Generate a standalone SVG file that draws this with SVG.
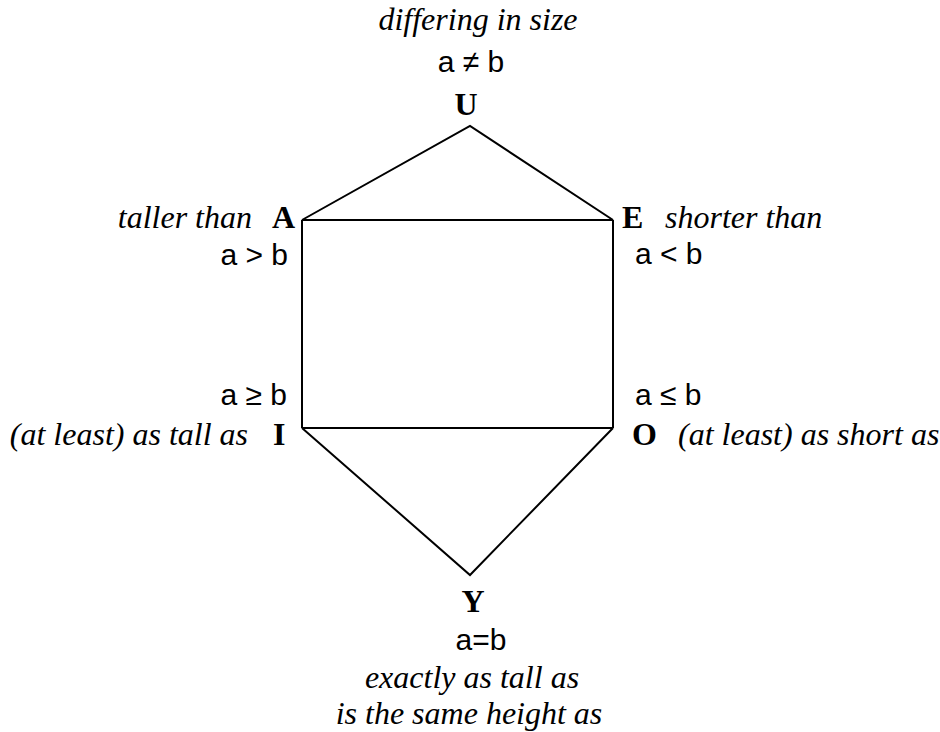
<svg xmlns="http://www.w3.org/2000/svg" width="940" height="732" viewBox="0 0 940 732">
<style>
.it{font-family:"Liberation Serif","Times New Roman",serif;font-style:italic;font-size:32px;fill:#000}
.bd{font-family:"Liberation Serif","Times New Roman",serif;font-weight:bold;font-size:32px;fill:#000}
.sn{font-family:"Liberation Sans",Arial,sans-serif;font-size:30px;fill:#000}
.ln{stroke:#000;stroke-width:2;fill:none;stroke-linejoin:miter}
</style>
<rect width="940" height="732" fill="#fff"/>
<g id="connectors" class="ln">
<polyline points="302,220 470,126 613,220"/>
<line x1="302" y1="220" x2="613" y2="220"/>
<line x1="302" y1="220" x2="302" y2="428"/>
<line x1="613" y1="220" x2="613" y2="428"/>
<line x1="302" y1="428" x2="613" y2="428"/>
<polyline points="302,428 470,575 613,428"/>
</g>
<g id="U">
<text class="it" x="478" y="30" text-anchor="middle">differing in size</text>
<text class="sn" x="471" y="72" text-anchor="middle">a ≠ b</text>
<text class="bd" x="466" y="115" text-anchor="middle" font-size="34">U</text>
</g>
<g id="A">
<text class="it" x="252" y="228" text-anchor="end">taller than</text>
<text class="bd" x="272" y="228">A</text>
<text class="sn" x="288" y="265" text-anchor="end">a &gt; b</text>
</g>
<g id="E">
<text class="bd" x="622" y="228">E</text>
<text class="it" x="665" y="228">shorter than</text>
<text class="sn" x="635" y="264">a &lt; b</text>
</g>
<g id="I">
<text class="sn" x="287" y="405" text-anchor="end">a ≥ b</text>
<text class="it" x="248" y="445" text-anchor="end">(at least) as tall as</text>
<text class="bd" x="273" y="445">I</text>
</g>
<g id="O">
<text class="sn" x="635" y="405">a ≤ b</text>
<text class="bd" x="632" y="445">O</text>
<text class="it" x="678" y="445">(at least) as short as</text>
</g>
<g id="Y">
<text class="bd" x="473" y="612" text-anchor="middle" font-size="34">Y</text>
<text class="sn" x="481" y="650" text-anchor="middle">a=b</text>
<text class="it" x="472" y="688" text-anchor="middle">exactly as tall as</text>
<text class="it" x="469" y="724" text-anchor="middle">is the same height as</text>
</g>
</svg>
